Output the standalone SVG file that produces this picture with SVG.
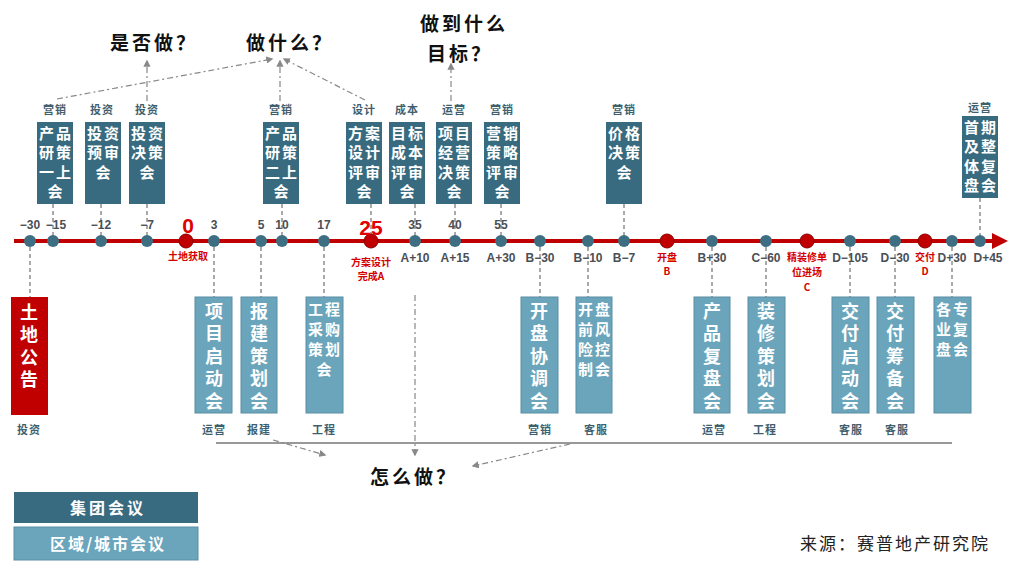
<svg xmlns="http://www.w3.org/2000/svg" width="1020" height="569" viewBox="0 0 1020 569">
<defs>
<style>
text{font-family:"Noto Sans CJK SC","Liberation Sans",sans-serif;font-weight:bold;text-anchor:middle}
.dk{fill:#386B7F}
.lt{fill:#6AA5BC;stroke:#5a8ea3;stroke-width:1}
.bt{fill:#fff;font-size:15px;letter-spacing:2px}
.bb{fill:#fff;font-size:18px;writing-mode:vertical-rl;text-anchor:start;letter-spacing:4.5px}
.dl{fill:#3f5f6e;font-size:11px;letter-spacing:1px}
.num{fill:#4a4f55;font-size:12px;font-family:"Liberation Sans",sans-serif}
.red{fill:#d40000;font-size:10px}
.q{fill:#111;font-size:19px;letter-spacing:3px}
.dot{fill:#3E6E82}
.rdot{fill:#C00000;stroke:#8a0000}
.dash{stroke:#555;stroke-width:1;stroke-dasharray:4 3;fill:none}
.arr{stroke:#888;stroke-width:1.2;stroke-dasharray:6 3 2 3;fill:none;marker-end:url(#ga)}
</style>
<marker id="ga" viewBox="0 0 10 10" refX="8" refY="5" markerWidth="6" markerHeight="6" orient="auto"><path d="M0,0L10,5L0,10z" fill="#888"/></marker>
<marker id="ra" viewBox="0 0 10 10" refX="5" refY="5" markerWidth="4" markerHeight="4" orient="auto"><path d="M0,0L10,5L0,10z" fill="#C00000"/></marker>
</defs>

<g id="connectors">
<line x1="14" y1="241" x2="1000" y2="241" stroke="#C00000" stroke-width="4" marker-end="url(#ra)"/>
<line x1="53" y1="204" x2="53" y2="236" class="dash"/>
<line x1="101" y1="204" x2="101" y2="236" class="dash"/>
<line x1="147" y1="204" x2="147" y2="236" class="dash"/>
<line x1="282" y1="204" x2="282" y2="236" class="dash"/>
<line x1="371" y1="204" x2="371" y2="236" class="dash"/>
<line x1="415" y1="204" x2="415" y2="236" class="dash"/>
<line x1="455" y1="204" x2="455" y2="236" class="dash"/>
<line x1="501" y1="204" x2="501" y2="236" class="dash"/>
<line x1="624" y1="204" x2="624" y2="236" class="dash"/>
<line x1="980" y1="198" x2="980" y2="236" class="dash"/>
<line x1="30" y1="247" x2="30" y2="297" class="dash"/>
<line x1="214" y1="247" x2="214" y2="297" class="dash"/>
<line x1="261" y1="247" x2="261" y2="297" class="dash"/>
<line x1="324" y1="247" x2="324" y2="297" class="dash"/>
<line x1="540" y1="247" x2="540" y2="297" class="dash"/>
<line x1="588" y1="247" x2="588" y2="297" class="dash"/>
<line x1="712" y1="247" x2="712" y2="297" class="dash"/>
<line x1="766" y1="247" x2="766" y2="297" class="dash"/>
<line x1="850" y1="247" x2="850" y2="297" class="dash"/>
<line x1="895" y1="247" x2="895" y2="297" class="dash"/>
<line x1="952" y1="247" x2="952" y2="297" class="dash"/>
<path d="M57,99 L272,59" class="arr"/>
<path d="M147,101 L147,61" class="arr"/>
<path d="M280,101 L280,61" class="arr"/>
<path d="M365,100 L284,59" class="arr"/>
<path d="M451,101 L451,64" class="arr"/>
<line x1="216" y1="443" x2="952" y2="443" stroke="#999" stroke-width="2"/>
<path d="M415,295 L415,455" class="arr"/>
<path d="M273,440 L325,455" class="arr"/>
<path d="M570,444 L473,466" class="arr"/>
</g>

<g id="dots">
<circle cx="30" cy="241" r="6" class="dot"/><circle cx="53" cy="241" r="6" class="dot"/>
<circle cx="101" cy="241" r="6" class="dot"/><circle cx="147" cy="241" r="6" class="dot"/>
<circle cx="186" cy="241" r="7" class="rdot"/><circle cx="214" cy="241" r="6" class="dot"/>
<circle cx="261" cy="241" r="6" class="dot"/><circle cx="282" cy="241" r="6" class="dot"/>
<circle cx="324" cy="241" r="6" class="dot"/><circle cx="371" cy="241" r="7" class="rdot"/>
<circle cx="415" cy="241" r="6" class="dot"/><circle cx="455" cy="241" r="6" class="dot"/>
<circle cx="501" cy="241" r="6" class="dot"/><circle cx="540" cy="241" r="6" class="dot"/>
<circle cx="588" cy="241" r="6" class="dot"/><circle cx="624" cy="241" r="6" class="dot"/>
<circle cx="667" cy="241" r="7" class="rdot"/><circle cx="712" cy="241" r="6" class="dot"/>
<circle cx="766" cy="241" r="6" class="dot"/><circle cx="807" cy="241" r="7" class="rdot"/>
<circle cx="850" cy="241" r="6" class="dot"/><circle cx="895" cy="241" r="6" class="dot"/>
<circle cx="925" cy="241" r="7" class="rdot"/><circle cx="952" cy="241" r="6" class="dot"/>
<circle cx="980" cy="241" r="6" class="dot"/>
</g>

<g id="axis-labels">
<text x="30" y="229" class="num">−30</text><text x="56" y="229" class="num">−15</text>
<text x="101" y="229" class="num">−12</text><text x="147" y="229" class="num">−7</text>
<text x="188" y="233" style="fill:#e00000;font-size:21px;font-family:'Liberation Sans',sans-serif">0</text>
<text x="214" y="229" class="num">3</text><text x="261" y="229" class="num">5</text>
<text x="282" y="229" class="num">10</text><text x="324" y="229" class="num">17</text>
<text x="371" y="235" style="fill:#e00000;font-size:21px;font-family:'Liberation Sans',sans-serif">25</text>
<text x="415" y="229" class="num">35</text><text x="455" y="229" class="num">40</text>
<text x="501" y="229" class="num">55</text>
<text x="415" y="262" class="num">A+10</text><text x="455" y="262" class="num">A+15</text>
<text x="501" y="262" class="num">A+30</text><text x="540" y="262" class="num">B−30</text>
<text x="588" y="262" class="num">B−10</text><text x="624" y="262" class="num">B−7</text>
<text x="712" y="262" class="num">B+30</text><text x="766" y="262" class="num">C−60</text>
<text x="850" y="262" class="num">D−105</text><text x="895" y="262" class="num">D−30</text>
<text x="952" y="262" class="num">D+30</text><text x="988" y="262" class="num">D+45</text>
<text x="188" y="260" class="red">土地获取</text>
<text x="371" y="266" class="red">方案设计</text><text x="371" y="280" class="red">完成A</text>
<text x="667" y="261" class="red">开盘</text><text x="667" y="275" class="red">B</text>
<text x="807" y="261" class="red">精装修单</text><text x="807" y="276" class="red">位进场</text><text x="807" y="291" class="red">C</text>
<text x="925" y="261" class="red">交付</text><text x="925" y="275" class="red">D</text>
</g>

<g id="questions">
<text x="154" y="50" class="q">是否做？</text>
<text x="290" y="50" class="q">做什么？</text>
<text x="464" y="31" class="q">做到什么</text>
<text x="460" y="61" class="q">目标？</text>
<text x="414" y="484" class="q">怎么做？</text>
</g>

<g id="n1"><text x="55" y="114" class="dl">营销</text><rect x="37" y="122" width="36" height="82" class="dk"/><text class="bt"><tspan x="56" y="139">产品</tspan><tspan x="56" y="158">研策</tspan><tspan x="56" y="178">一上</tspan><tspan x="56" y="197">会</tspan></text></g>
<g id="n2"><text x="102" y="114" class="dl">投资</text><rect x="85" y="122" width="36" height="82" class="dk"/><text class="bt"><tspan x="104" y="139">投资</tspan><tspan x="104" y="158">预审</tspan><tspan x="104" y="178">会</tspan></text></g>
<g id="n3"><text x="147" y="114" class="dl">投资</text><rect x="129" y="122" width="36" height="82" class="dk"/><text class="bt"><tspan x="148" y="139">投资</tspan><tspan x="148" y="158">决策</tspan><tspan x="148" y="178">会</tspan></text></g>
<g id="n4"><text x="281" y="114" class="dl">营销</text><rect x="263" y="122" width="36" height="82" class="dk"/><text class="bt"><tspan x="282" y="139">产品</tspan><tspan x="282" y="158">研策</tspan><tspan x="282" y="178">二上</tspan><tspan x="282" y="197">会</tspan></text></g>
<g id="n5"><text x="364" y="114" class="dl">设计</text><rect x="346" y="122" width="36" height="82" class="dk"/><text class="bt"><tspan x="365" y="139">方案</tspan><tspan x="365" y="158">设计</tspan><tspan x="365" y="178">评审</tspan><tspan x="365" y="197">会</tspan></text></g>
<g id="n6"><text x="407" y="114" class="dl">成本</text><rect x="389" y="122" width="36" height="82" class="dk"/><text class="bt"><tspan x="408" y="139">目标</tspan><tspan x="408" y="158">成本</tspan><tspan x="408" y="178">评审</tspan><tspan x="408" y="197">会</tspan></text></g>
<g id="n7"><text x="454" y="114" class="dl">运营</text><rect x="436" y="122" width="36" height="82" class="dk"/><text class="bt"><tspan x="455" y="139">项目</tspan><tspan x="455" y="158">经营</tspan><tspan x="455" y="178">决策</tspan><tspan x="455" y="197">会</tspan></text></g>
<g id="n8"><text x="502" y="114" class="dl">营销</text><rect x="484" y="122" width="36" height="82" class="dk"/><text class="bt"><tspan x="503" y="139">营销</tspan><tspan x="503" y="158">策略</tspan><tspan x="503" y="178">评审</tspan><tspan x="503" y="197">会</tspan></text></g>
<g id="n9"><text x="624" y="114" class="dl">营销</text><rect x="606" y="122" width="36" height="82" class="dk"/><text class="bt"><tspan x="625" y="139">价格</tspan><tspan x="625" y="158">决策</tspan><tspan x="625" y="178">会</tspan></text></g>
<g id="n10"><text x="980" y="112" class="dl">运营</text><rect x="962" y="116" width="36" height="82" class="dk"/><text class="bt"><tspan x="981" y="133">首期</tspan><tspan x="981" y="152">及整</tspan><tspan x="981" y="172">体复</tspan><tspan x="981" y="191">盘会</tspan></text></g>

<g id="b1"><rect x="11" y="297" width="37" height="118" fill="#C00000"/><text x="29" y="303" class="bb">土地公告</text><text x="29" y="434" class="dl">投资</text></g>
<g id="b2"><rect x="195" y="297" width="37" height="116" class="lt"/><text x="214" y="302" class="bb">项目启动会</text><text x="214" y="434" class="dl">运营</text></g>
<g id="b3"><rect x="241" y="297" width="36" height="116" class="lt"/><text x="259" y="302" class="bb">报建策划会</text><text x="259" y="434" class="dl">报建</text></g>
<g id="b4"><rect x="306" y="297" width="37" height="116" class="lt"/><text class="bt"><tspan x="325" y="315">工程</tspan><tspan x="325" y="335">采购</tspan><tspan x="325" y="355">策划</tspan><tspan x="325" y="375">会</tspan></text><text x="324" y="434" class="dl">工程</text></g>
<g id="b5"><rect x="521" y="297" width="37" height="116" class="lt"/><text x="539" y="302" class="bb">开盘协调会</text><text x="540" y="434" class="dl">营销</text></g>
<g id="b6"><rect x="576" y="297" width="36" height="116" class="lt"/><text class="bt"><tspan x="595" y="315">开盘</tspan><tspan x="595" y="335">前风</tspan><tspan x="595" y="355">险控</tspan><tspan x="595" y="375">制会</tspan></text><text x="596" y="434" class="dl">客服</text></g>
<g id="b7"><rect x="694" y="297" width="36" height="116" class="lt"/><text x="712" y="302" class="bb">产品复盘会</text><text x="714" y="434" class="dl">运营</text></g>
<g id="b8"><rect x="748" y="297" width="37" height="116" class="lt"/><text x="766" y="302" class="bb">装修策划会</text><text x="765" y="434" class="dl">工程</text></g>
<g id="b9"><rect x="832" y="297" width="37" height="116" class="lt"/><text x="850" y="302" class="bb">交付启动会</text><text x="851" y="434" class="dl">客服</text></g>
<g id="b10"><rect x="877" y="297" width="37" height="116" class="lt"/><text x="895" y="302" class="bb">交付筹备会</text><text x="897" y="434" class="dl">客服</text></g>
<g id="b11"><rect x="934" y="297" width="37" height="116" class="lt"/><text class="bt"><tspan x="953" y="315">各专</tspan><tspan x="953" y="335">业复</tspan><tspan x="953" y="355">盘会</tspan></text></g>

<g id="legend">
<rect x="14" y="492" width="184" height="31" class="dk"/><text x="108" y="514" style="fill:#fff;font-size:16px;letter-spacing:3px">集团会议</text>
<rect x="14" y="527" width="184" height="33" class="lt"/><text x="108" y="550" style="fill:#fff;font-size:16px;letter-spacing:2px">区域/城市会议</text>
<text x="895" y="550" style="fill:#222;font-size:17px;font-weight:normal;letter-spacing:2px">来源：赛普地产研究院</text>
</g>
</svg>
